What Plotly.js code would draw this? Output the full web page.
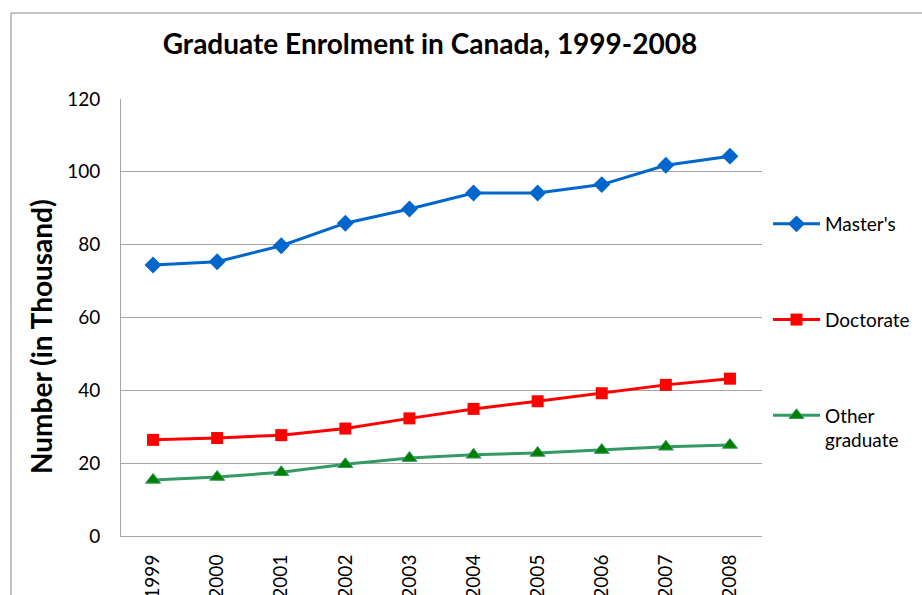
<!DOCTYPE html>
<html>
<head>
<meta charset="utf-8">
<script src="https://cdn.plot.ly/plotly-3.0.1.min.js"></script>
<style>html,body{margin:0;padding:0;background:#fff;}#chart{width:922px;height:595px;}</style>
</head>
<body>
<div id="chart"></div>
<script>
const years = ["1999","2000","2001","2002","2003","2004","2005","2006","2007","2008"];
const masters = [74.4, 75.3, 79.7, 85.9, 89.8, 94.2, 94.2, 96.5, 101.8, 104.3];
const doctorate = [26.4, 26.9, 27.7, 29.5, 32.3, 34.9, 37.0, 39.2, 41.5, 43.2];
const otherGrad = [15.4, 16.2, 17.5, 19.7, 21.4, 22.3, 22.8, 23.6, 24.5, 25.0];
const seriesNames = ["Master's", "Doctorate", "Other<br>graduate"];
const yTitle = "Number (in Thousand)";

const FONT = "Lato, 'Open Sans', sans-serif";

const traces = [
  {x: years, y: masters, name: seriesNames[0], legendgroup: "g1", type: "scatter", mode: "lines+markers",
   line: {color: "#0066CC", width: 3}, marker: {symbol: "diamond", size: 13, color: "#0066CC"}},
  {x: years, y: doctorate, name: seriesNames[1], legendgroup: "g2", type: "scatter", mode: "lines+markers",
   line: {color: "#FF0000", width: 3}, marker: {symbol: "square", size: 12, color: "#FF0000"}},
  {x: years, y: otherGrad, name: seriesNames[2], legendgroup: "g3", type: "scatter", mode: "lines+markers",
   line: {color: "#339966", width: 3}, marker: {symbol: "triangle-up", size: 13, color: "#008000", line: {color: "#339966", width: 1}}}
];

const L = 121, R = 160, T = 99, B = 59;
const pw = 922 - L - R, ph = 595 - T - B;

const layout = {
  width: 922, height: 595,
  margin: {l: L, r: R, t: T, b: B, pad: 0},
  paper_bgcolor: "#fff", plot_bgcolor: "#fff",
  font: {family: FONT, size: 18, color: "#000"},
  title: {text: "<b>Graduate Enrolment in Canada, 1999-2008</b>", font: {family: FONT, size: 28, color: "#000"},
          xref: "container", yref: "container", x: 430/922, xanchor: "center", y: 1 - 44/595, yanchor: "middle"},
  xaxis: {type: "category", range: [-0.5, 9.5], showgrid: false, showline: true, linecolor: "#A6A6A6", linewidth: 1,
          ticks: "", tickangle: -90, ticklabelstandoff: 10, tickfont: {family: FONT, size: 19, color: "#000"}, zeroline: false},
  yaxis: {range: [0, 120], dtick: 20, showgrid: true, gridcolor: "#A6A6A6", gridwidth: 1, showline: true, linecolor: "#A6A6A6",
          linewidth: 1, ticks: "", ticklabelstandoff: 16, tickfont: {family: FONT, size: 19, color: "#000"}, zeroline: false},
  annotations: [{text: "<b>" + yTitle + "</b>", textangle: -90, showarrow: false,
                 xref: "paper", yref: "paper", x: (41 - L)/pw, y: (595 - B - 337)/ph, xanchor: "center", yanchor: "middle",
                 font: {family: FONT, size: 28, color: "#000"}}],
  legend: {xref: "container", yref: "container", x: 768/922, xanchor: "left", y: 1 - 205/595, yanchor: "top",
           traceorder: "grouped", tracegroupgap: 68, valign: "top", itemwidth: 47,
           font: {family: FONT, size: 19, color: "#000"}, bgcolor: "rgba(0,0,0,0)"},
  shapes: [{type: "rect", xref: "paper", yref: "paper",
            x0: (11 - L)/pw, x1: (940 - L)/pw, y0: (595 - B - 620)/ph, y1: (595 - B - 13)/ph,
            line: {color: "#868686", width: 1}, fillcolor: "rgba(0,0,0,0)", layer: "below"}],
  showlegend: true
};

Plotly.newPlot("chart", traces, layout, {displayModeBar: false, staticPlot: true});
</script>
</body>
</html>
